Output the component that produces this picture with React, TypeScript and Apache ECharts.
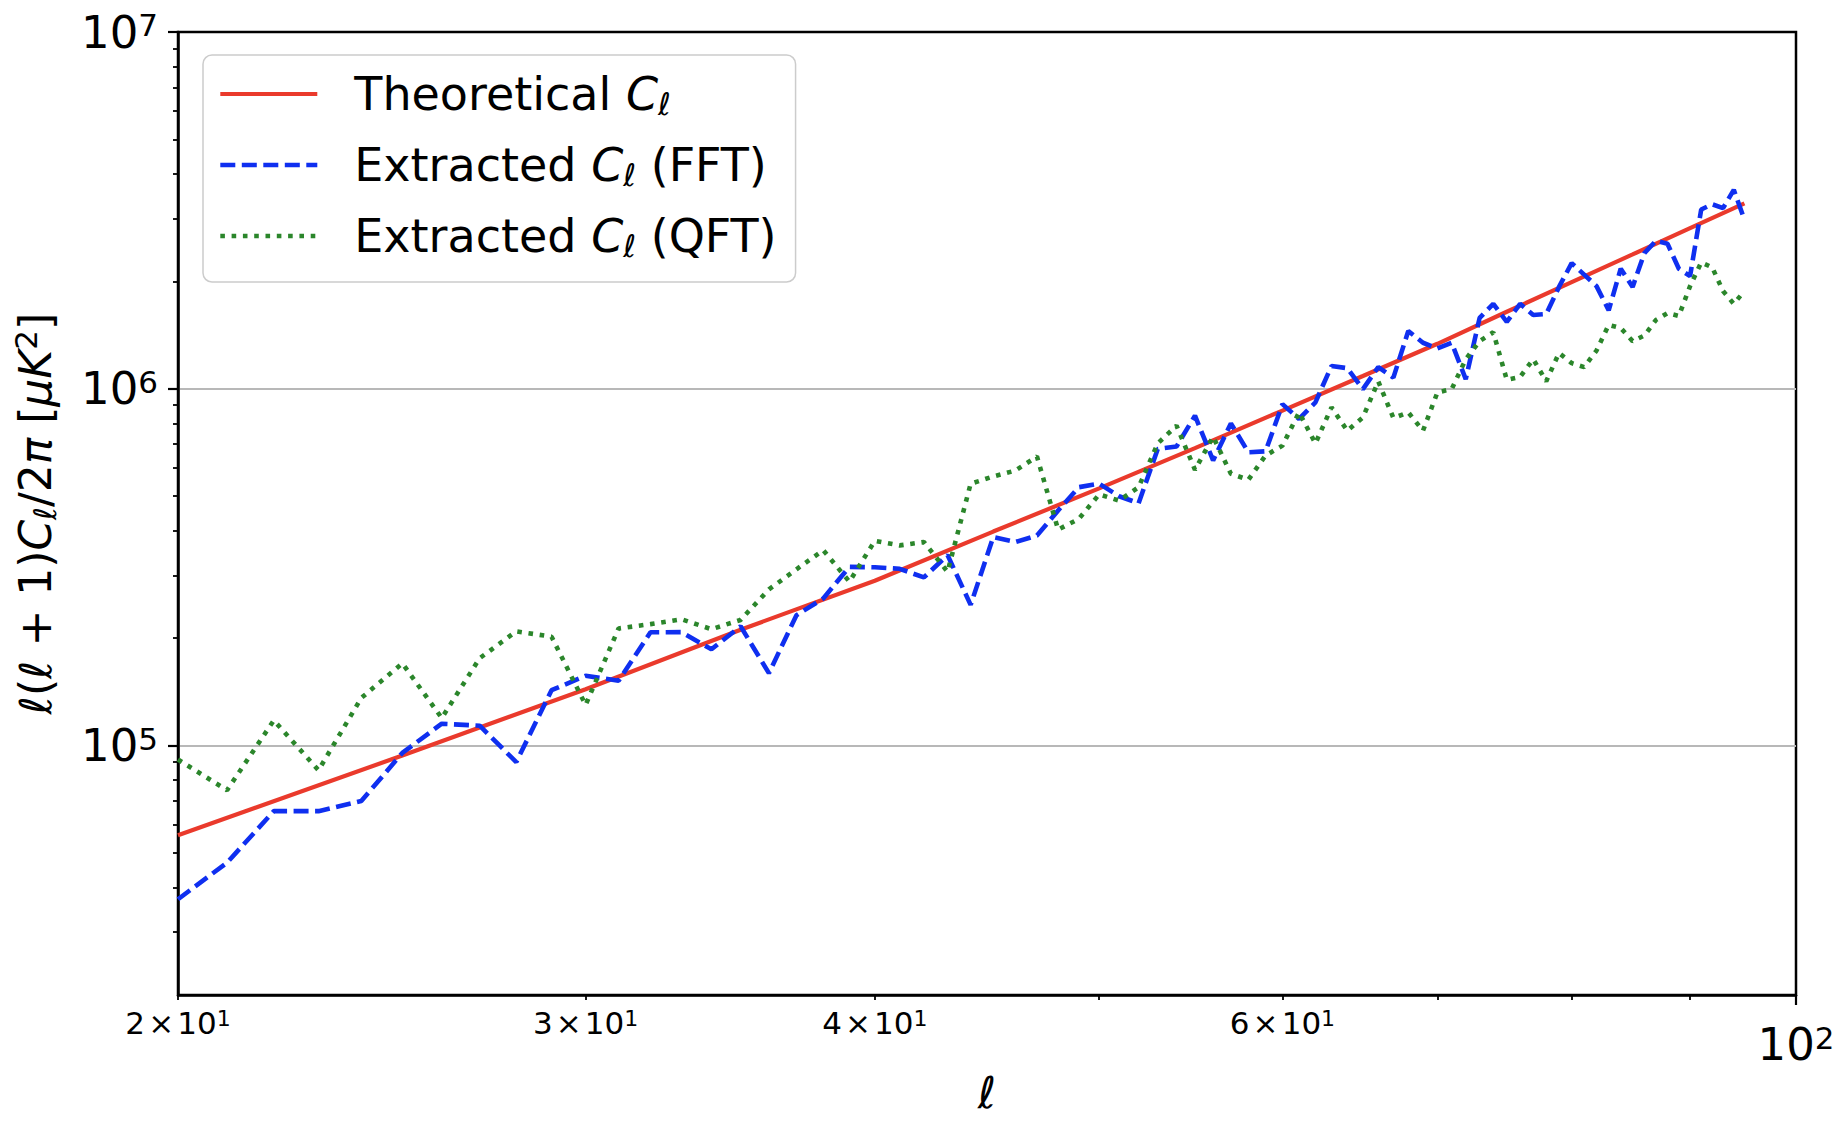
import React, { useEffect, useRef } from "react";
import * as echarts from "echarts";

// multipole values (x)
const ell = [
  20, 21, 22, 23, 24, 25, 26, 27, 28, 29,
  30, 31, 32, 33, 34, 35, 36, 37, 38, 39,
  40, 41, 42, 43, 44, 45, 46, 47, 48, 49,
  50, 51, 52, 53, 54, 55, 56, 57, 58, 59,
  60, 61, 62, 63, 64, 65, 66, 67, 68, 69,
  70, 71, 72, 73, 74, 75, 76, 77, 78, 79,
  80, 81, 82, 83, 84, 85, 86, 87, 88, 89,
  90, 91, 92, 93, 94, 95,
];

// Extracted C_l (FFT)
const fftValues = [
  37100, 47000, 65500, 65500, 69900, 95400, 115200, 113700, 89900, 143000,
  156900, 152000, 207800, 208000, 186200, 216000, 159600, 232000, 258500, 317000,
  316000, 313000, 296000, 342000, 248000, 384000, 372000, 388000, 456000, 530000,
  542000, 500000, 478000, 678000, 689000, 841000, 630000, 800000, 664000, 668000,
  906000, 823000, 916000, 1159000, 1142000, 998000, 1151000, 1075000, 1452000, 1346000,
  1298000, 1346000, 1064000, 1580000, 1730000, 1540000, 1730000, 1610000, 1620000, 1930000,
  2250000, 2090000, 1940000, 1660000, 2170000, 1930000, 2400000, 2600000, 2550000, 2170000,
  2070000, 3180000, 3290000, 3210000, 3610000, 2980000,
];

// Extracted C_l (QFT)
const qftValues = [
  91400, 75000, 117700, 85300, 136000, 170000, 119500, 175800, 209000, 202000,
  130000, 213000, 219000, 226000, 212000, 225000, 274000, 312000, 353000, 288000,
  375000, 364000, 372000, 307000, 542000, 568000, 590000, 646000, 403000, 432000,
  506000, 486000, 530000, 703000, 788000, 593000, 734000, 578000, 556000, 650000,
  693000, 859000, 703000, 887000, 763000, 832000, 1049000, 828000, 859000, 763000,
  977000, 998000, 1210000, 1360000, 1440000, 1060000, 1080000, 1210000, 1050000, 1260000,
  1180000, 1150000, 1280000, 1510000, 1480000, 1360000, 1410000, 1560000, 1630000, 1600000,
  1940000, 2260000, 2190000, 1880000, 1730000, 1880000,
];

// Theoretical C_l (read at selected multipoles)
const theoryEll = [20, 25, 30, 35, 40, 45, 50, 55, 60, 65, 70, 75, 80, 85, 90, 95];
const theoryValues = [
  56100, 93800, 143900, 211300, 289700, 398000, 526000, 682000,
  869000, 1086000, 1337000, 1644000, 1990000, 2380000, 2820000, 3310000,
];

// axis ranges and ticks
const xRange = [20, 100];
const yRange = [20000, 10000000];
const xLabelTicks = [20, 30, 40, 60];
const xMinorTicks = [20, 30, 40, 50, 60, 70, 80, 90];
const xMajorTicks = [100];
const yMajorTicks = [100000, 1000000, 10000000];
const yGridTicks = [100000, 1000000];
const yMinorTicks = [
  30000, 40000, 50000, 60000, 70000, 80000, 90000,
  200000, 300000, 400000, 500000, 600000, 700000, 800000, 900000,
  2000000, 3000000, 4000000, 5000000, 6000000, 7000000, 8000000, 9000000,
];

const seriesNames = ["Theoretical", "Extracted FFT", "Extracted QFT"];
const legendLabels: Record<string, string> = {
  Theoretical: "Theoretical {i|C}{sub|ℓ}",
  "Extracted FFT": "Extracted {i|C}{sub|ℓ} (FFT)",
  "Extracted QFT": "Extracted {i|C}{sub|ℓ} (QFT)",
};

const FONT = "DejaVu Sans";
const RED = "#ea3a2c";
const BLUE = "#0f2ff0";
const GREEN = "#2b862b";
const BLUE_DASH = [15, 6.5];
const GREEN_DOT = [4.6, 6.7];

export default function App() {
  const ref = useRef<HTMLDivElement>(null);

  useEffect(() => {
    if (!ref.current) return;
    const chart = echarts.init(ref.current, undefined, { renderer: "svg" });
    const lg = (v: number) => Math.log10(v);
    const xMin = lg(xRange[0]);
    const xMax = lg(xRange[1]);
    const yMin = lg(yRange[0]);
    const yMax = lg(yRange[1]);
    const hidden = { show: false };
    const black = "#000000";

    const supRich = (base: number, sup: number, supH: number) => ({
      b: { fontFamily: FONT, fontSize: base, lineHeight: base, color: black },
      sup: { fontFamily: FONT, fontSize: sup, lineHeight: supH, verticalAlign: "top", color: black },
    });

    const option: any = {
      animation: false,
      backgroundColor: "#ffffff",
      textStyle: { fontFamily: FONT, color: black },
      grid: {
        left: 178,
        top: 32,
        width: 1618,
        height: 963,
        show: true,
        borderColor: black,
        borderWidth: 2.5,
        backgroundColor: "transparent",
      },
      xAxis: [
        {
          type: "log",
          logBase: 10,
          min: xRange[0],
          max: xRange[1],
          axisLine: hidden,
          axisTick: hidden,
          axisLabel: hidden,
          splitLine: hidden,
        },
        {
          type: "value",
          min: xMin,
          max: xMax,
          position: "bottom",
          axisLine: { show: true, onZero: false, lineStyle: { color: black, width: 2.5 } },
          axisTick: {
            show: true,
            length: 5,
            lineStyle: { color: black, width: 1.8 },
            customValues: xMinorTicks.map(lg),
          },
          axisLabel: {
            show: true,
            customValues: xLabelTicks.map(lg),
            margin: 12,
            formatter: (v: number) => {
              const t = Math.round(Math.pow(10, v));
              const e = Math.floor(Math.log10(t) + 1e-9);
              const m = Math.round(t / Math.pow(10, e));
              return `{b|${m}\u200A×\u200A10}{sup|${e}}`;
            },
            rich: supRich(31, 22, 16),
          },
          splitLine: hidden,
          name: "{i|ℓ}",
          nameLocation: "middle",
          nameGap: 72,
          nameTextStyle: {
            rich: { i: { fontFamily: FONT, fontSize: 44, fontStyle: "italic", lineHeight: 50, color: black } },
          },
        },
        {
          type: "value",
          min: xMin,
          max: xMax,
          position: "bottom",
          axisLine: { show: false, onZero: false },
          axisTick: {
            show: true,
            length: 10,
            lineStyle: { color: black, width: 2.2 },
            customValues: xMajorTicks.map(lg),
          },
          axisLabel: {
            show: true,
            customValues: xMajorTicks.map(lg),
            margin: 27,
            formatter: (v: number) => `{b|10}{sup|${Math.round(v)}}`,
            rich: supRich(45, 31, 26),
          },
          splitLine: hidden,
        },
      ],
      yAxis: [
        {
          type: "log",
          logBase: 10,
          min: yRange[0],
          max: yRange[1],
          axisLine: hidden,
          axisTick: hidden,
          axisLabel: hidden,
          splitLine: hidden,
        },
        {
          type: "value",
          min: yMin,
          max: yMax,
          position: "left",
          axisLine: { show: true, onZero: false, lineStyle: { color: black, width: 2.5 } },
          axisTick: {
            show: true,
            length: 10,
            lineStyle: { color: black, width: 2.2 },
            customValues: yMajorTicks.map(lg),
          },
          axisLabel: {
            show: true,
            customValues: yMajorTicks.map(lg),
            margin: 20,
            formatter: (v: number) => `{b|10}{sup|${Math.round(v)}}`,
            rich: supRich(45, 31, 26),
          },
          splitLine: hidden,
          name: "{i|ℓ}{b|(}{i|ℓ}{b| + 1)}{i|C}{sub|ℓ}{b|/2}{i|π}{b| [}{i|μK}{sup|2}{b|]}",
          nameLocation: "middle",
          nameRotate: 90,
          nameGap: 118,
          nameTextStyle: {
            rich: {
              b: { fontFamily: FONT, fontSize: 44, lineHeight: 50, color: black },
              i: { fontFamily: FONT, fontSize: 44, fontStyle: "italic", lineHeight: 50, color: black },
              sub: { fontFamily: FONT, fontSize: 31, fontStyle: "italic", lineHeight: 20, verticalAlign: "bottom", color: black },
              sup: { fontFamily: FONT, fontSize: 31, lineHeight: 26, verticalAlign: "top", color: black },
            },
          },
        },
        {
          type: "value",
          min: yMin,
          max: yMax,
          position: "left",
          axisLine: { show: false, onZero: false },
          axisTick: {
            show: true,
            length: 5,
            lineStyle: { color: black, width: 1.8 },
            customValues: yMinorTicks.map(lg),
          },
          axisLabel: hidden,
          splitLine: hidden,
        },
        {
          type: "value",
          min: yMin,
          max: yMax,
          position: "left",
          axisLine: { show: false, onZero: false },
          axisTick: { show: false, customValues: yGridTicks.map(lg) },
          axisLabel: hidden,
          splitLine: { show: true, lineStyle: { color: "#b8b8b8", width: 2 } },
        },
      ],
      legend: {
        orient: "vertical",
        left: 203,
        top: 55,
        padding: [14, 19, 21, 15],
        itemWidth: 97,
        itemHeight: 14,
        itemGap: 21,
        backgroundColor: "#ffffff",
        borderColor: "#cccccc",
        borderWidth: 1.5,
        borderRadius: 9,
        selectedMode: false,
        itemStyle: { opacity: 0 },
        lineStyle: { width: 4.6 },
        data: [
          { name: seriesNames[0], lineStyle: { width: 4.2, color: RED, type: "solid" } },
          { name: seriesNames[1], lineStyle: { width: 4.6, color: BLUE, type: BLUE_DASH, cap: "butt" } },
          { name: seriesNames[2], lineStyle: { width: 4.6, color: GREEN, type: GREEN_DOT, cap: "butt" } },
        ],
        formatter: (name: string) => legendLabels[name],
        textStyle: {
          fontFamily: FONT,
          fontSize: 46,
          lineHeight: 50,
          color: black,
          padding: [0, 0, 0, 32],
          rich: {
            i: { fontFamily: FONT, fontSize: 46, fontStyle: "italic", lineHeight: 50, color: black },
            sub: { fontFamily: FONT, fontSize: 31, fontStyle: "italic", lineHeight: 20, verticalAlign: "bottom", color: black },
          },
        },
      },
      series: [
        {
          name: seriesNames[0],
          type: "line",
          xAxisIndex: 0,
          yAxisIndex: 0,
          symbol: "none",
          data: theoryEll.map((l, i) => [l, theoryValues[i]]),
          lineStyle: { color: RED, width: 4.2, type: "solid" },
          itemStyle: { color: RED },
        },
        {
          name: seriesNames[1],
          type: "line",
          xAxisIndex: 0,
          yAxisIndex: 0,
          symbol: "none",
          data: ell.map((l, i) => [l, fftValues[i]]),
          lineStyle: { color: BLUE, width: 4.6, type: BLUE_DASH, cap: "butt" },
          itemStyle: { color: BLUE },
        },
        {
          name: seriesNames[2],
          type: "line",
          xAxisIndex: 0,
          yAxisIndex: 0,
          symbol: "none",
          data: ell.map((l, i) => [l, qftValues[i]]),
          lineStyle: { color: GREEN, width: 4.6, type: GREEN_DOT, cap: "butt" },
          itemStyle: { color: GREEN },
        },
      ],
    };

    chart.setOption(option);
    return () => {
      chart.dispose();
    };
  }, []);

  return (
    <div
      ref={ref}
      style={{ position: "fixed", left: 0, top: 0, width: "1846px", height: "1122px", background: "#ffffff" }}
    />
  );
}
